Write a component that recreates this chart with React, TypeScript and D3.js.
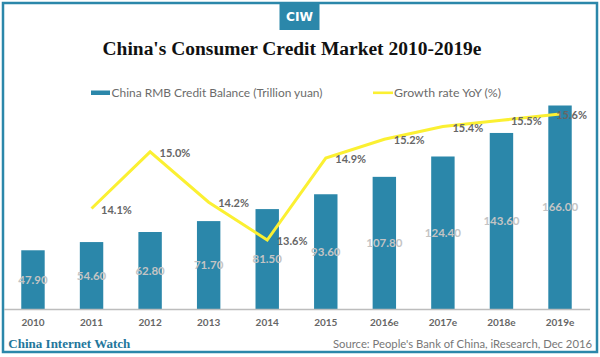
import React from "react";
import * as d3 from "d3";

const years = ["2010", "2011", "2012", "2013", "2014", "2015", "2016e", "2017e", "2018e", "2019e"];
const balance = [47.9, 54.6, 62.8, 71.7, 81.5, 93.6, 107.8, 124.4, 143.6, 166.0];
const growthYears = ["2011", "2012", "2013", "2014", "2015", "2016e", "2017e", "2018e", "2019e"];
const growth = [14.1, 15.0, 14.2, 13.6, 14.9, 15.2, 15.4, 15.5, 15.6];

const W = 600;
const H = 357;
const TEAL = "#2b87aa";
const YELLOW = "#fbf032";
const SANS = "Lato, 'Open Sans', sans-serif";
const SERIF = "'Liberation Serif', 'DejaVu Serif', serif";

export default function App() {
  const x = d3.scaleBand<string>().domain(years).range([3.7, 589.3]).paddingInner(0.6).paddingOuter(0.3);
  const baseY = 309;
  const y = d3.scaleLinear().domain([0, 166]).range([baseY, 105.5]);
  const y2 = d3.scaleLinear().domain([12.5, 16]).range([309.3, 88.8]);
  const cx = (k: string) => (x(k) as number) + x.bandwidth() / 2;
  const pts: [number, number][] = growthYears.map((k, i) => [cx(k), y2(growth[i])]);
  const line = d3.line();

  return (
    <div style={{ position: "absolute", left: 0, top: 0, width: W, height: H }}>
      <svg width={W} height={H} style={{ display: "block" }}>
        <rect x={0} y={0} width={W} height={H} fill="#fff" />
        <rect x={3} y={3} width={594} height={349} fill="none" stroke={TEAL} strokeWidth={2.5} />
        {/* logo */}
        <rect x={279.5} y={3} width={40} height={27} fill={TEAL} />
        <text x={299.5} y={21} textAnchor="middle" fill="#fff" fontFamily="'Liberation Sans Narrow', 'DejaVu Sans Condensed', sans-serif" fontWeight="bold" fontSize={13} textLength={27} lengthAdjust="spacingAndGlyphs">CIW</text>
        {/* title */}
        <text x={292} y={55} textAnchor="middle" fontFamily={SERIF} fontWeight="bold" fontSize={18.5} fill="#111" textLength={379} lengthAdjust="spacingAndGlyphs">China's Consumer Credit Market 2010-2019e</text>
        {/* legend */}
        <rect x={91} y={90.5} width={19} height={4.5} fill={TEAL} />
        <text x={111.5} y={96.8} fontFamily={SANS} fontSize={11.5} fill="#6b6b6b" textLength={211} lengthAdjust="spacingAndGlyphs">China RMB Credit Balance (Trillion yuan)</text>
        <rect x={373} y={91.5} width={20} height={2.6} fill={YELLOW} />
        <text x={394} y={96.8} fontFamily={SANS} fontSize={11.5} fill="#6b6b6b" textLength={107} lengthAdjust="spacingAndGlyphs">Growth rate YoY (%)</text>
        {/* bars */}
        {years.map((k, i) => (
          <rect key={k} x={x(k)} y={y(balance[i])} width={x.bandwidth()} height={baseY - y(balance[i])} fill={TEAL} />
        ))}
        {/* axis */}
        <line x1={4} x2={590} y1={baseY + 0.5} y2={baseY + 0.5} stroke="#bdbdbd" strokeWidth={1.3} />
        {years.map((k) => (
          <text key={k} x={cx(k)} y={326} textAnchor="middle" fontFamily={SANS} fontWeight="bold" fontSize={10} fill="#666">{k}</text>
        ))}
        {/* bar labels */}
        {years.map((k, i) => (
          <text key={k} x={cx(k)} y={(y(balance[i]) + baseY) / 2 + 4} textAnchor="middle" fontFamily={SANS} fontWeight="bold" fontSize={11.5} fill="#c4c4c4">{balance[i].toFixed(2)}</text>
        ))}
        {/* growth line */}
        <path d={line(pts) || ""} fill="none" stroke={YELLOW} strokeWidth={3} strokeLinejoin="miter" />
        {growthYears.map((k, i) => {
          const px = pts[i][0] + 9.5;
          const over = px + 30 > 587;
          return (
            <text key={k} x={over ? 587 : px} y={pts[i][1] + 5} textAnchor={over ? "end" : "start"} fontFamily={SANS} fontWeight="bold" fontSize={11} fill="#666">{growth[i].toFixed(1)}%</text>
          );
        })}
        {/* footer */}
        <text x={8.3} y={348} fontFamily={SERIF} fontWeight="bold" fontSize={12.5} fill="#23769b" textLength={122} lengthAdjust="spacingAndGlyphs">China Internet Watch</text>
        <text x={592} y={348} textAnchor="end" fontFamily={SANS} fontSize={11} fill="#777" textLength={259} lengthAdjust="spacingAndGlyphs">Source: People's Bank of China, iResearch, Dec 2016</text>
      </svg>
    </div>
  );
}
